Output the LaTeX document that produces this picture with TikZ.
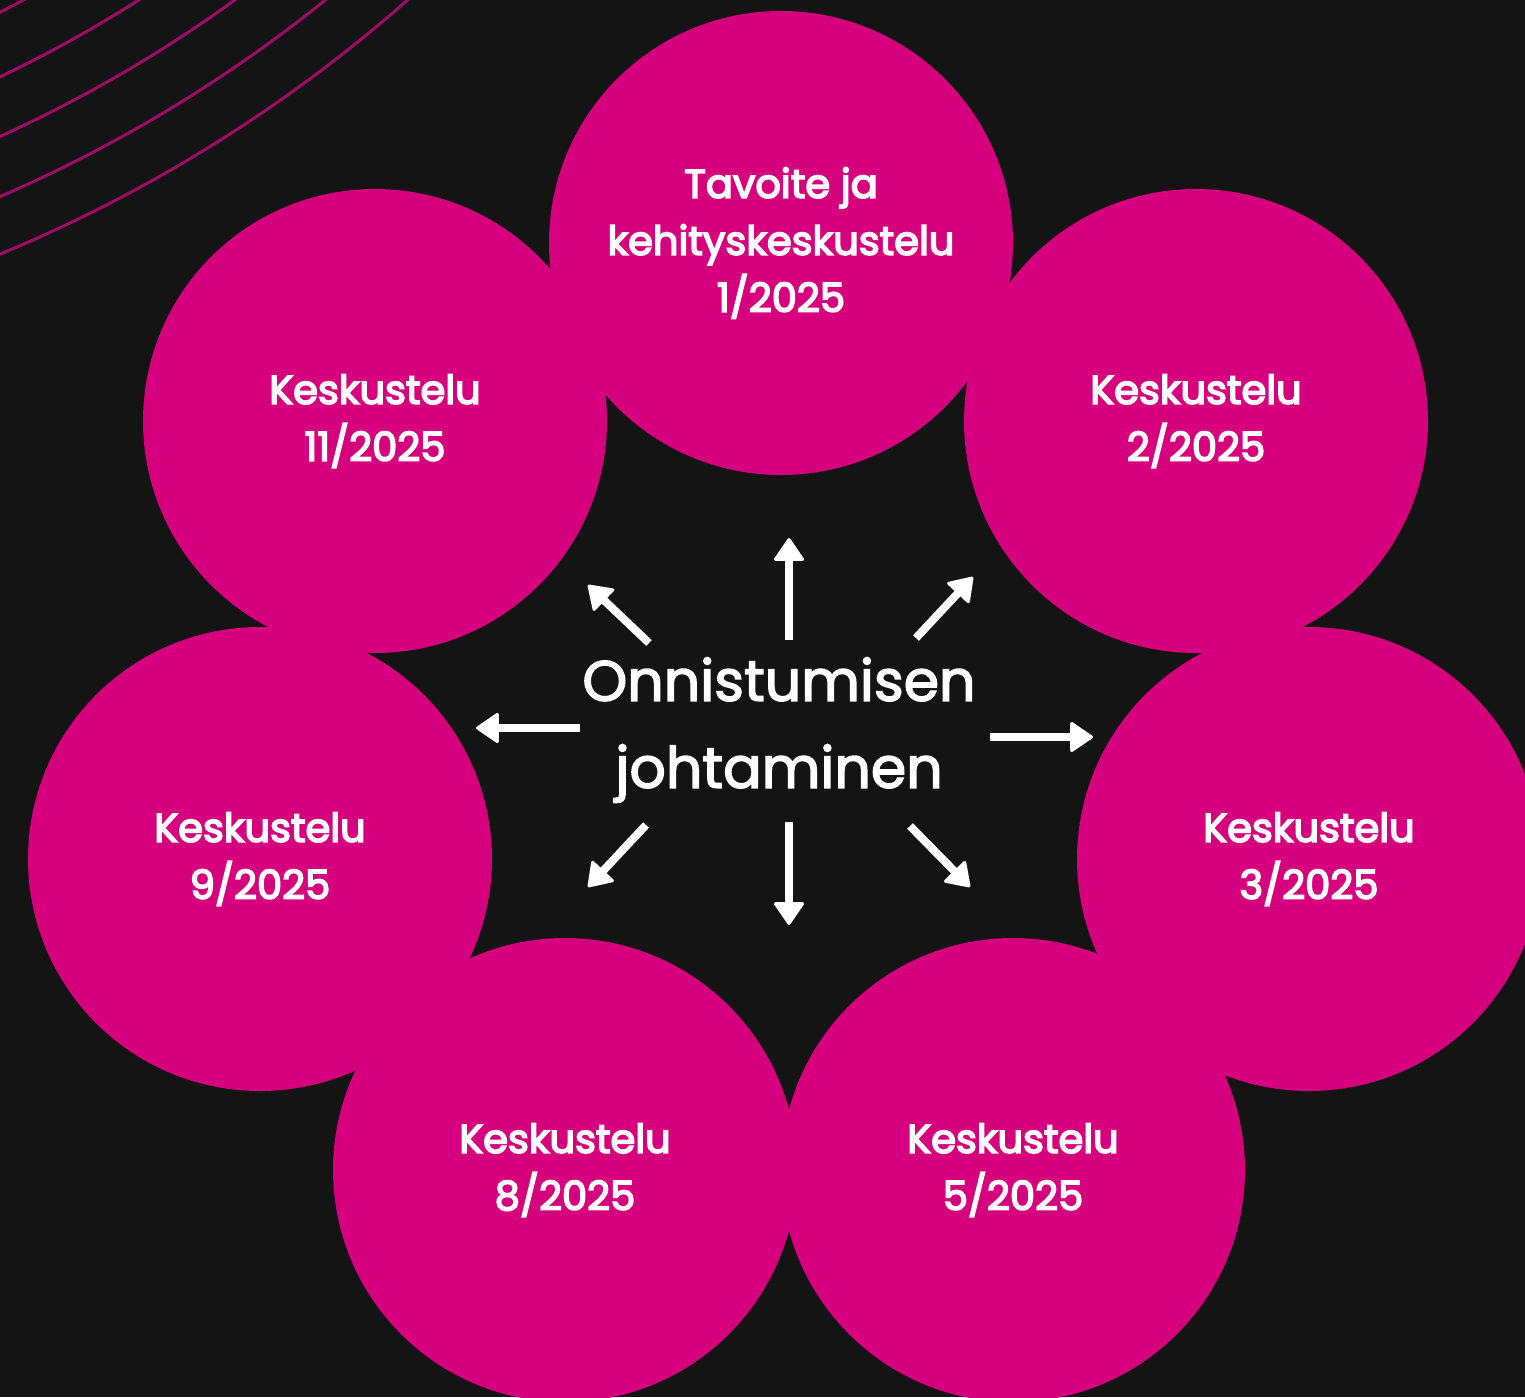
\documentclass[tikz,border=0pt]{standalone}
\usepackage{fontspec}
\setmainfont{Poppins}
\newfontfamily\labfont{Poppins}[FakeBold=4]
\newfontfamily\cenfont{Poppins}[FakeBold=2.5]
\usetikzlibrary{arrows.meta}
\definecolor{bg}{HTML}{141414}
\definecolor{pinkc}{HTML}{D6007F}
\definecolor{arcc}{HTML}{9E0C64}
\begin{document}
\begin{tikzpicture}[x=1pt,y=-1pt,
  bubble/.style={circle,fill=pinkc,minimum size=464pt,inner sep=0pt,text=white,align=center,font=\labfont\fontsize{40}{57}\selectfont},
  cen/.style={text=white,align=center,inner sep=0pt,font=\cenfont\fontsize{57}{87}\selectfont},
  ray/.style={draw=white,line width=8pt,-{Triangle[width=32pt,length=24pt,round,line width=3pt]}},
  arcline/.style={draw=arcc,line width=3pt}]
\useasboundingbox (0,0) rectangle (1525,1397);
\fill[bg] (0,0) rectangle (1525,1397);
\begin{scope}
\clip (0,0) rectangle (1525,1397);
\coordinate (o) at (-560,-1100);
\foreach \r in {1245,1303,1357,1412,1465} \draw[arcline] (o) circle[radius=\r];
\node[bubble] (c1) at (781,243) {Tavoite ja\\kehityskeskustelu\\1/2025};
\node[bubble] (c2) at (1196,421) {Keskustelu\\2/2025};
\node[bubble] (c3) at (1309,859) {Keskustelu\\3/2025};
\node[bubble] (c5) at (1013,1170) {Keskustelu\\5/2025};
\node[bubble] (c8) at (565,1170) {Keskustelu\\8/2025};
\node[bubble] (c9) at (260,859) {Keskustelu\\9/2025};
\node[bubble] (c11) at (375,421) {Keskustelu\\11/2025};
\end{scope}
\node[cen] (mid) at (779,730) {Onnistumisen\\johtaminen};
\coordinate (u1) at (789,640);  \coordinate (u2) at (789,538);
\coordinate (ur1) at (916,638); \coordinate (ur2) at (973,577);
\coordinate (r1) at (990,737);  \coordinate (r2) at (1093,737);
\coordinate (dr1) at (910,826); \coordinate (dr2) at (970,887);
\coordinate (d1) at (789,822);  \coordinate (d2) at (789,925);
\coordinate (dl1) at (646,825); \coordinate (dl2) at (588,887);
\coordinate (l1) at (580,728);  \coordinate (l2) at (476,728);
\coordinate (ul1) at (649,643); \coordinate (ul2) at (588,585);
\foreach \s/\e in {u1/u2,ur1/ur2,r1/r2,dr1/dr2,d1/d2,dl1/dl2,l1/l2,ul1/ul2}
  \draw[ray] (\s) -- (\e);
\end{tikzpicture}
\end{document}
